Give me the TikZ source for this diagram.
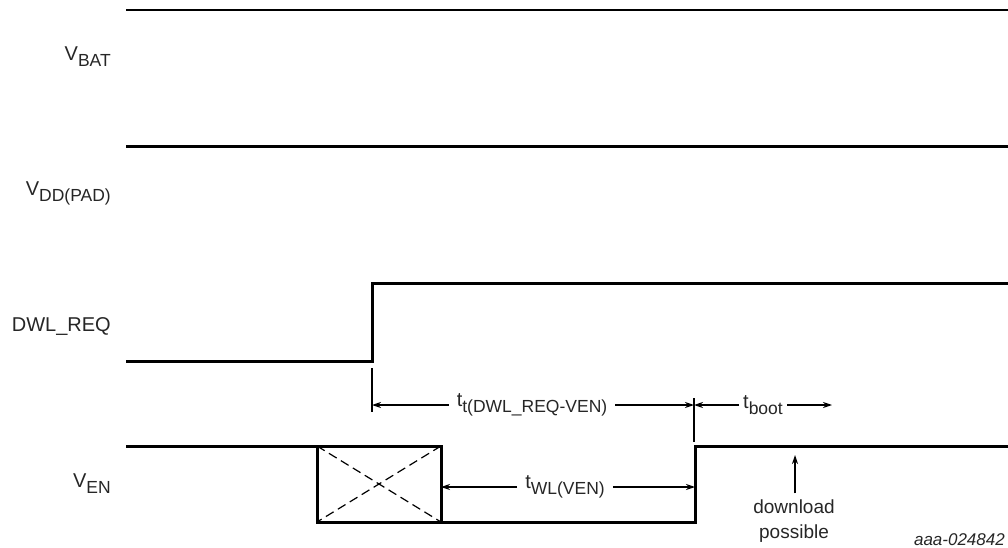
\documentclass[tikz,border=0pt]{standalone}
\usepackage{fontspec}
\setmainfont{Liberation Sans}
\usetikzlibrary{arrows.meta}
\newcommand\subt[1]{\raisebox{-0.3em}{\fontsize{17.5}{17.5}\selectfont #1}}
\begin{document}
\begin{tikzpicture}[x=1pt,y=-1pt,
  sig/.style={line width=3pt,line join=miter},
  thin/.style={line width=1.2pt},
  dim/.style={line width=1.2pt,-{Stealth[length=9pt,width=6pt]}},
  lbl/.style={anchor=east,inner sep=0pt,font=\fontsize{20}{22}\selectfont,text=black!85},
  tlbl/.style={inner sep=0pt,font=\fontsize{20}{22}\selectfont,text=black!85}]
\useasboundingbox (0,0) rectangle (1008,548);
% labels
\node[lbl] (lbat) at (111,57) {V\subt{BAT}};
\node[lbl] (lpad) at (111,193) {V\subt{DD(PAD)}};
\node[lbl] (lreq) at (111,327) {DWL\_REQ};
\node[lbl] (len) at (111,484) {V\subt{EN}};
% VBAT, VDD
\coordinate (b0) at (126,10); \coordinate (b1) at (1008,10);
\coordinate (p0) at (126,147); \coordinate (p1) at (1008,147);
\draw[sig,line width=2.2pt] (b0) -- (b1);
\draw[sig] (p0) -- (p1);
% DWL_REQ
\coordinate (r0) at (126,361); \coordinate (r1) at (372,361);
\coordinate (r2) at (372,283); \coordinate (r3) at (1008,283);
\draw[sig] (r0) -- (r1) -- (r2) -- (r3);
% VEN
\coordinate (e0) at (126,446); \coordinate (ea) at (317,446);
\coordinate (eb) at (441,446); \coordinate (ec) at (317,522);
\coordinate (ed) at (441,522); \coordinate (ee) at (695,522);
\coordinate (ef) at (695,446); \coordinate (eg) at (1008,446);
\draw[sig] (e0) -- (eb) -- (ed);
\draw[sig] (ea) -- (ec) -- (ee) -- (ef) -- (eg);
\draw[thin,dash pattern=on 9pt off 5pt] (ea) -- (ed) (eb) -- (ec);
% ticks
\coordinate (k1a) at (372,368); \coordinate (k1b) at (372,412);
\coordinate (k2a) at (694,398); \coordinate (k2b) at (694,442);
\draw[thin] (k1a) -- (k1b);
\draw[thin] (k2a) -- (k2b);
% t_t dimension
\node[tlbl,inner xsep=8pt] (tt) at (532,405) {t\subt{t(DWL\_REQ-VEN)}};
\coordinate (tt1) at (372,405); \coordinate (tt2) at (694,405);
\draw[dim] (tt.west) -- (tt1);
\draw[dim] (tt.east) -- (tt2);
% t_boot
\node[tlbl,inner xsep=4pt] (tb) at (763,405) {t\subt{boot}};
\coordinate (tb1) at (694,405); \coordinate (tb2) at (832,405);
\draw[dim] (tb.west) -- (tb1);
\draw[dim] (tb.east) -- (tb2);
% t_WL
\node[tlbl,inner xsep=8pt] (tw) at (565,487) {t\subt{WL(VEN)}};
\coordinate (tw1) at (441,487); \coordinate (tw2) at (695,487);
\draw[dim] (tw.west) -- (tw1);
\draw[dim] (tw.east) -- (tw2);
% download possible
\node[tlbl,align=center,font=\fontsize{19}{25}\selectfont] (dl) at (794,521) {download\\possible};
\coordinate (dtip) at (795,455);
\draw[dim] (dl.north -| dtip) ++(0,-6) -- (dtip);
% figure id
\node[inner sep=0pt,anchor=east,font=\fontsize{17}{19}\selectfont\itshape,text=black!85] (id) at (1005,540) {aaa-024842};
\end{tikzpicture}
\end{document}
